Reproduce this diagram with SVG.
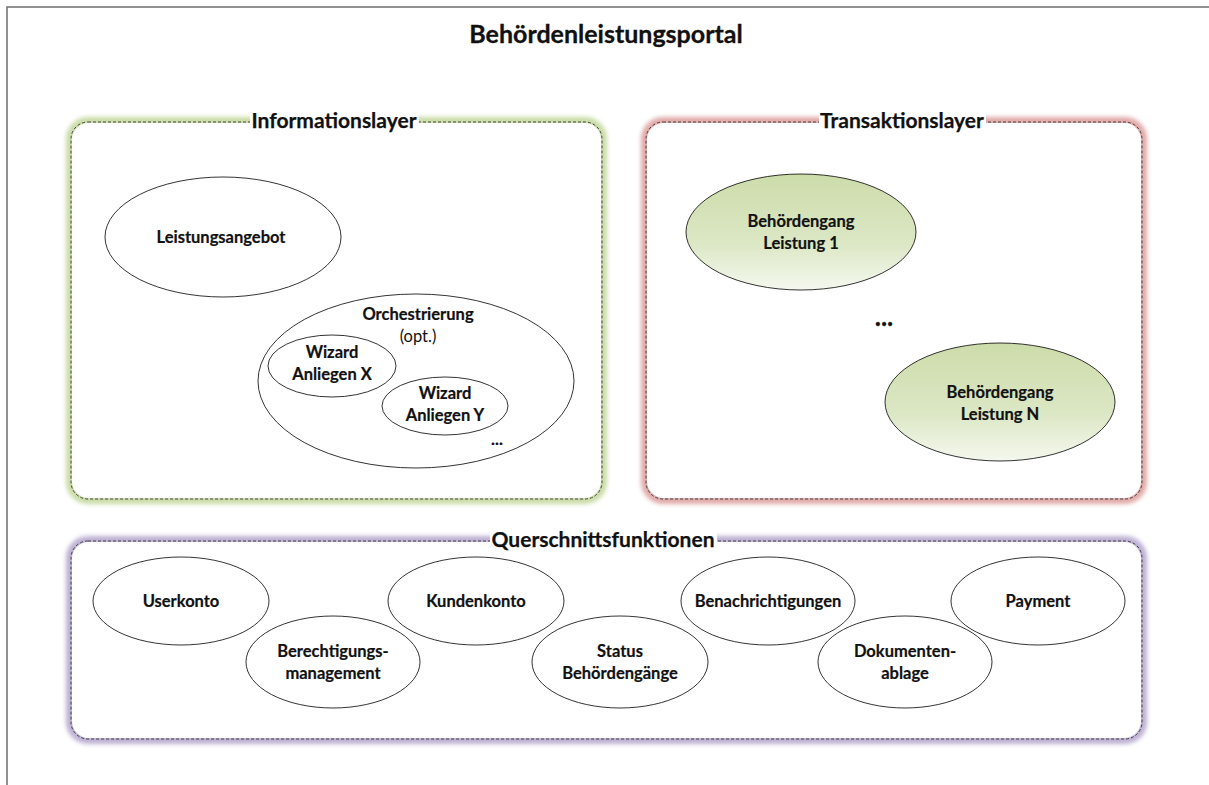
<svg xmlns="http://www.w3.org/2000/svg" width="1209" height="785" viewBox="0 0 1209 785">
  <style>
    text { font-family: Lato, "Liberation Sans", sans-serif; fill: #111; text-anchor: middle; }
    .b { font-weight: bold; font-size: 16.5px; stroke: #111; stroke-width: 0.2; }
    .n { font-size: 16.5px; }
    .title { font-weight: bold; font-size: 25px; stroke: #111; stroke-width: 0.3; }
    .layer { font-weight: bold; font-size: 21px; stroke: #111; stroke-width: 0.25; }
    .node { fill: #fff; stroke: #000; stroke-width: 0.8; }
    .green { fill: url(#greenFill); stroke: #000; stroke-width: 0.8; }
    .frame { fill: none; stroke: #222; stroke-width: 0.8; stroke-dasharray: 3 2; }
    .glow { fill: none; stroke-width: 8; filter: url(#soft); }
  </style>
  <defs>
    <linearGradient id="greenFill" x1="0" y1="0" x2="0" y2="1">
      <stop offset="0" stop-color="#cddcaa"/>
      <stop offset="0.6" stop-color="#dce7c5"/>
      <stop offset="1" stop-color="#f5f8ee"/>
    </linearGradient>
    <filter id="soft" x="-5%" y="-5%" width="110%" height="110%">
      <feGaussianBlur stdDeviation="2"/>
    </filter>
  </defs>

  <rect width="1209" height="785" fill="#fff"/>
  <!-- outer portal frame -->
  <rect x="7" y="7" width="1230" height="800" fill="none" stroke="#6e6e6e" stroke-width="1.5"/>
  <text class="title" x="606" y="43">Behördenleistungsportal</text>

  <!-- Informationslayer -->
  <g id="informationslayer">
    <rect class="glow" x="70" y="121" width="533" height="379" rx="18" stroke="#c9dba6"/>
    <rect fill="#fff" x="72" y="123" width="529" height="375" rx="17"/>
    <rect class="frame" x="71" y="122" width="531" height="377" rx="17"/>
    <rect fill="#fff" x="250" y="110" width="169" height="22"/>
    <text class="layer" x="334" y="128">Informationslayer</text>
  </g>
  <g id="leistungsangebot">
    <ellipse class="node" cx="223" cy="237" rx="118" ry="60"/>
    <text class="b" x="221" y="243">Leistungsangebot</text>
  </g>
  <g id="orchestrierung">
    <ellipse class="node" cx="416" cy="381" rx="158" ry="87"/>
    <text class="b" x="418" y="320">Orchestrierung</text>
    <text class="n" x="418" y="342">(opt.)</text>
    <text class="b" x="497" y="445">...</text>
  </g>
  <g id="wizard-x">
    <ellipse class="node" cx="332" cy="366" rx="64" ry="31"/>
    <text class="b" x="332" y="358">Wizard</text>
    <text class="b" x="332" y="380">Anliegen X</text>
  </g>
  <g id="wizard-y">
    <ellipse class="node" cx="445" cy="406" rx="63" ry="29"/>
    <text class="b" x="445" y="399">Wizard</text>
    <text class="b" x="445" y="421">Anliegen Y</text>
  </g>

  <!-- Transaktionslayer -->
  <g id="transaktionslayer">
    <rect class="glow" x="645" y="121" width="498" height="379" rx="18" stroke="#e0a9a7"/>
    <rect fill="#fff" x="647" y="123" width="494" height="375" rx="17"/>
    <rect class="frame" x="646" y="122" width="496" height="377" rx="17"/>
    <rect fill="#fff" x="819" y="110" width="167" height="22"/>
    <text class="layer" x="902" y="128">Transaktionslayer</text>
    <text class="layer" x="884" y="326" style="font-size:26px">...</text>
  </g>
  <g id="leistung-1">
    <ellipse class="green" cx="801" cy="232" rx="115" ry="58"/>
    <text class="b" x="801" y="227">Behördengang</text>
    <text class="b" x="801" y="249">Leistung 1</text>
  </g>
  <g id="leistung-n">
    <ellipse class="green" cx="1000" cy="402" rx="115" ry="59"/>
    <text class="b" x="1000" y="398">Behördengang</text>
    <text class="b" x="1000" y="420">Leistung N</text>
  </g>

  <!-- Querschnittsfunktionen -->
  <g id="querschnittsfunktionen">
    <rect class="glow" x="70" y="540" width="1073" height="200" rx="18" stroke="#bcb0d3"/>
    <rect fill="#fff" x="72" y="542" width="1069" height="196" rx="17"/>
    <rect class="frame" x="71" y="541" width="1071" height="198" rx="17"/>
    <rect fill="#fff" x="490" y="529" width="227" height="22"/>
    <text class="layer" x="603" y="547">Querschnittsfunktionen</text>
  </g>
  <g id="userkonto">
    <ellipse class="node" cx="181" cy="601" rx="88" ry="44"/>
    <text class="b" x="181" y="607">Userkonto</text>
  </g>
  <g id="kundenkonto">
    <ellipse class="node" cx="476" cy="601" rx="88" ry="44"/>
    <text class="b" x="476" y="607">Kundenkonto</text>
  </g>
  <g id="benachrichtigungen">
    <ellipse class="node" cx="768" cy="601" rx="87" ry="44"/>
    <text class="b" x="768" y="607">Benachrichtigungen</text>
  </g>
  <g id="payment">
    <ellipse class="node" cx="1038" cy="601" rx="87" ry="44"/>
    <text class="b" x="1038" y="607">Payment</text>
  </g>
  <g id="berechtigungsmanagement">
    <ellipse class="node" cx="333" cy="662" rx="87" ry="46"/>
    <text class="b" x="333" y="657">Berechtigungs-</text>
    <text class="b" x="333" y="679">management</text>
  </g>
  <g id="status-behoerdengaenge">
    <ellipse class="node" cx="620" cy="662" rx="88" ry="46"/>
    <text class="b" x="620" y="657">Status</text>
    <text class="b" x="620" y="679">Behördengänge</text>
  </g>
  <g id="dokumentenablage">
    <ellipse class="node" cx="905" cy="662" rx="87" ry="46"/>
    <text class="b" x="905" y="657">Dokumenten-</text>
    <text class="b" x="905" y="679">ablage</text>
  </g>

  <g id="connectors"/>
</svg>
